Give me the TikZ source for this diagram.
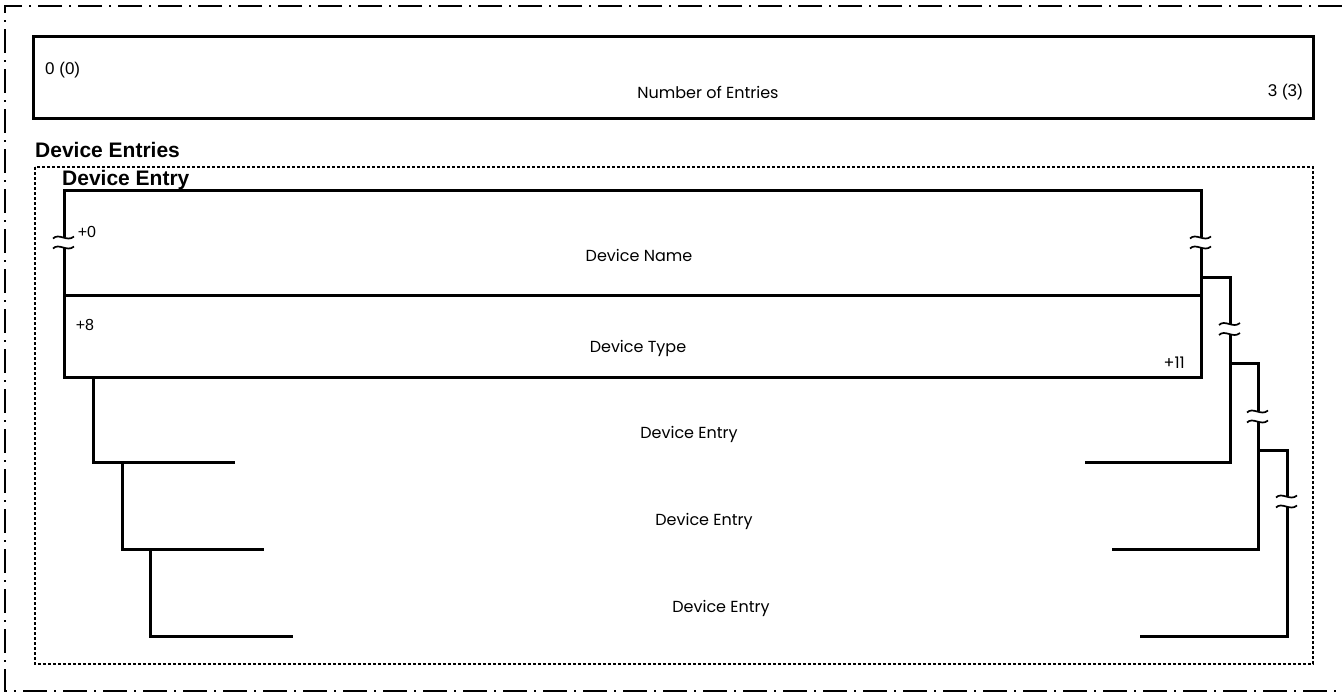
\documentclass[tikz,border=0pt]{standalone}
\usepackage{fontspec}
\setmainfont{Poppins}
\newfontfamily\headfont{Liberation Sans}
\usetikzlibrary{positioning}
\tikzset{%
frame/.style={line width=1.4pt,dash pattern=on 24pt off 7pt on 2pt off 7pt},
dotbox/.style={line width=1.1pt,dash pattern=on 3pt off 2pt},
rule/.style={line width=3pt},
wave/.style={line width=1.7pt},
lbl/.style={font=\fontsize{16}{18}\selectfont,inner sep=0pt},
num/.style={font=\headfont\fontsize{17}{19}\selectfont,inner sep=0pt},
head/.style={font=\headfont\bfseries\fontsize{21}{24}\selectfont,inner sep=0pt},
}
% two wavy marks that cut a vertical line at (#1,#2)
\newcommand\cutmark[2]{%
  \draw[wave] (#1-11,#2-4) .. controls (#1-5,#2-10) and (#1+3,#2) .. (#1+10,#2-6);
  \draw[wave] (#1-11,#2+6) .. controls (#1-5,#2) and (#1+3,#2+10) .. (#1+10,#2+4);
}

\begin{document}
\begin{tikzpicture}[x=1pt,y=-1pt]
        \useasboundingbox (0,0) rectangle (1342,696);
        % outer frame, open to the right
        \draw[frame] (1342,6) -- (5,6) -- (5,691) -- (1342,691);
        % header
        \draw[rule] (33,36) rectangle (1313,118);
        \node[num,anchor=west] (first) at (45,70) {0 (0)};
        \node[lbl] (count) at (708,92) {Number of Entries};
        \node[num,anchor=east] (last) at (1303,92) {3 (3)};
        % entries
        \node[head,anchor=base west] (entries) at (35,157) {Device Entries};
        \draw[dotbox] (35,167) rectangle (1313,664);
        \node[head,anchor=base west] (entry) at (62,185) {Device Entry};
        \coordinate (nw) at (64,190);
        \coordinate (ne) at (1201,190);
        \coordinate (sw) at (64,377);
        \coordinate (se) at (1201,377);
        \draw[rule] (nw |- 0,237) -- (nw) -- (ne) -- (ne |- 0,237);
        \draw[rule] (nw |- 0,248) -- (sw) -- (se) -- (se |- 0,248);
        \draw[rule] (64,295) -- (1201,295);
        \cutmark{64}{242.5}
        \cutmark{1201}{242.5}
        \node[num,font=\headfont\fontsize{16}{18}\selectfont] (off0) at (87,232) {+0};
        \node[lbl] (name) at (639,255) {Device Name};
        \node[num,font=\headfont\fontsize{16}{18}\selectfont] (off8) at (85,325) {+8};
        \node[lbl] (type) at (638,348) {Device Type};
        \node[lbl,anchor=east] (off11) at (1185,363) {+11};
        % the following entries, each one step further in
        \foreach \xl/\yt/\yb/\xe/\xp/\xr/\ys/\yc/\xb/\tx in {%
            93/377/462/235/1201/1230/277/329/1085/689,
            122/462/549/264/1230/1258/363/416.5/1112/704,
            150/549/636/293/1258/1287/450/501.5/1140/721}{
            \draw[rule] (\xl,\yt) -- (\xl,\yb) -- (\xe,\yb);
            \draw[rule] (\xp,\ys) -- (\xr,\ys) -- (\xr,\yc-5.5);
            \draw[rule] (\xr,\yc+5.5) -- (\xr,\yb) -- (\xb,\yb);
            \cutmark{\xr}{\yc}
            \node[lbl] at (\tx,\yb-28) {Device Entry};
        }
\end{tikzpicture}
\end{document}
